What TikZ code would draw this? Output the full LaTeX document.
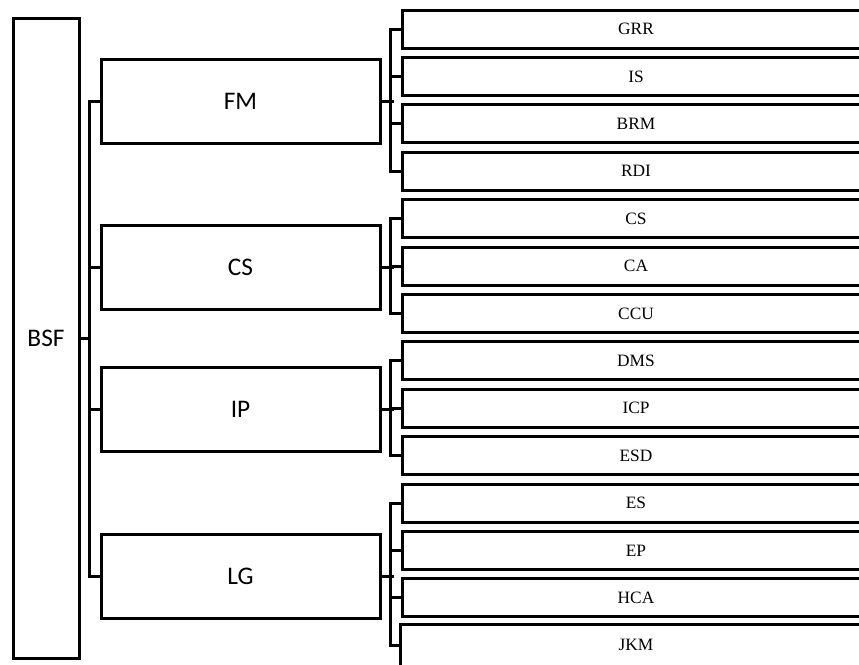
\documentclass[tikz,border=0pt]{standalone}
\usepackage{fontspec}
\setmainfont{Liberation Serif}
\newfontfamily\calfont{Carlito}
\begin{document}
\begin{tikzpicture}[x=0.75pt,y=-0.75pt,
  line width=2.25pt,
  rootbox/.style={draw, rectangle, inner sep=0pt, minimum width=49.5pt, minimum height=480pt, font=\calfont\fontsize{19pt}{22pt}\selectfont},
  midbox/.style={draw, rectangle, inner sep=0pt, minimum width=209.25pt, minimum height=63pt, font=\calfont\fontsize{19pt}{22pt}\selectfont},
  leaftext/.style={rectangle, inner sep=0pt, minimum width=351pt, minimum height=28.5pt, font=\fontsize{13pt}{15pt}\selectfont},
  leafbox/.style={leaftext, draw},
  conn/.style={draw, line width=2.25pt}]
\useasboundingbox (0,0) rectangle (859,664);
\clip (0,0) rectangle (859,664);
% root
\node[rootbox] (bsf) at (46,338) {BSF};
% middle level
\node[midbox] (fm) at (240.5,101) {FM};
\node[midbox] (cs) at (240.5,267) {CS};
\node[midbox] (ip) at (240.5,409.5) {IP};
\node[midbox] (lg) at (240.5,576) {LG};
% leaves
\node[leafbox] (grr) at (636,29) {GRR};
\node[leafbox] (is)  at (636,76.4) {IS};
\node[leafbox] (brm) at (636,123.8) {BRM};
\node[leafbox] (rdi) at (636,171.2) {RDI};
\node[leafbox] (lcs) at (636,218.6) {CS};
\node[leafbox] (ca)  at (636,266) {CA};
\node[leafbox] (ccu) at (636,313.4) {CCU};
\node[leafbox] (dms) at (636,360.8) {DMS};
\node[leafbox] (icp) at (636,408.2) {ICP};
\node[leafbox] (esd) at (636,455.6) {ESD};
\node[leafbox] (es)  at (636,503) {ES};
\node[leafbox] (ep)  at (636,550.4) {EP};
\node[leafbox] (hca) at (636,597.8) {HCA};
\node[leaftext] (jkm) at (636,645.2) {JKM};
\draw ([yshift=-12pt]jkm.south west) -- (jkm.north west) -- (jkm.north east);
% root to middle
\coordinate (t0) at (91,338);
\draw[conn] (bsf.east) -- (t0);
\draw[conn] (fm.west) -- ++(-10,0) |- (lg.west);
\draw[conn] (cs.west) -- ++(-10,0);
\draw[conn] (ip.west) -- ++(-10,0);
% FM group
\draw[conn] (fm.east) -- ++(12,0);
\draw[conn] (grr.west) -- ++(-10,0) |- (rdi.west);
\draw[conn] (is.west) -- ++(-10,0);
\draw[conn] (brm.west) -- ++(-10,0);
% CS group
\draw[conn] (cs.east) -- ++(12,0);
\draw[conn] (lcs.west) -- ++(-10,0) |- (ccu.west);
\draw[conn] (ca.west) -- ++(-10,0);
% IP group
\draw[conn] (ip.east) -- ++(12,0);
\draw[conn] (dms.west) -- ++(-10,0) |- (esd.west);
\draw[conn] (icp.west) -- ++(-10,0);
% LG group
\draw[conn] (lg.east) -- ++(12,0);
\draw[conn] (es.west) -- ++(-10,0) |- (jkm.west);
\draw[conn] (ep.west) -- ++(-10,0);
\draw[conn] (hca.west) -- ++(-10,0);
\end{tikzpicture}
\end{document}
